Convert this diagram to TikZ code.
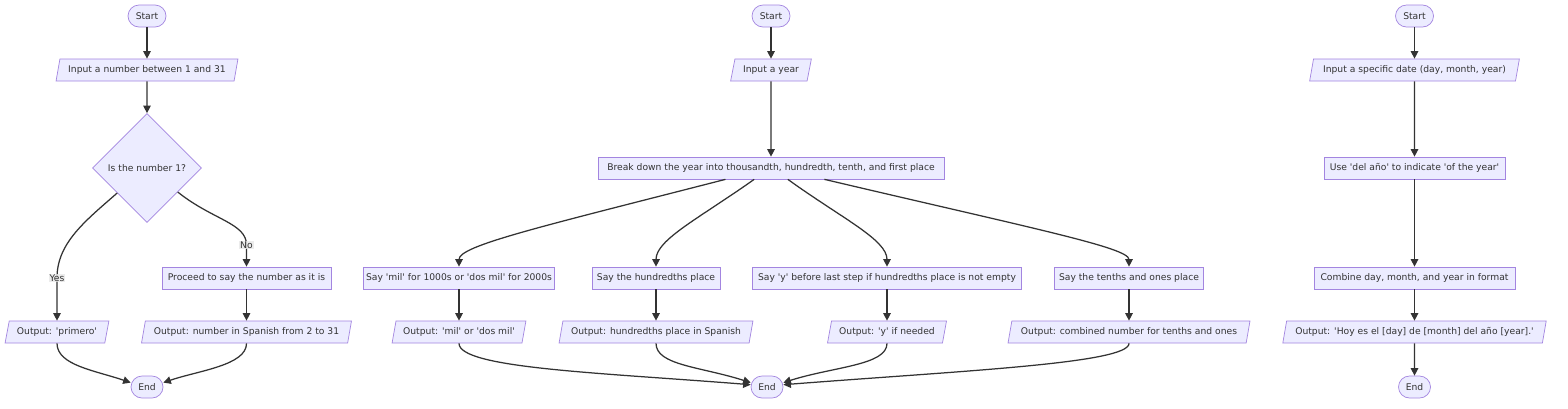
\documentclass[tikz,border=0pt]{standalone}
\usepackage{fontspec}
\newfontfamily\chartfont{DejaVu Sans}
\usetikzlibrary{shapes.geometric,arrows.meta}

\definecolor{boxfill}{HTML}{ECECFF}
\definecolor{boxline}{HTML}{9370DB}
\definecolor{ink}{HTML}{333333}
\definecolor{lblbg}{HTML}{E8E8E8}

\tikzset{
    base/.style={draw=boxline!85!white,fill=boxfill,line width=0.7pt,text=ink,
        font=\chartfont\fontsize{9.2}{11}\selectfont,minimum height=22pt,inner sep=1pt},
    term/.style={base,rectangle,rounded corners=11pt},
    proc/.style={base,rectangle},
    io/.style={base,trapezium,trapezium left angle=72,trapezium right angle=108,
        trapezium stretches=true},
    cond/.style={base,diamond,minimum width=109pt,minimum height=109pt,inner sep=0pt},
    arr/.style={draw=ink,line width=1.25pt,-{Triangle[length=7.5pt,width=7.5pt]}},
    lbl/.style={fill=lblbg,fill opacity=0.8,text opacity=1,text=ink,
        font=\chartfont\fontsize{9.2}{11}\selectfont,inner sep=1pt},
}

\begin{document}
\begin{tikzpicture}[x=1pt,y=-1pt]
    \fill[white] (0,0) rectangle (1568,408);
    \useasboundingbox (0,0) rectangle (1568,408);

    \node[term,minimum width=38] (s1) at (147,16) {Start};
    \node[io,minimum width=182] (in1) at (147,70) {Input a number between 1 and 31};
    \node[cond] (isone) at (147,168) {Is the number 1?};
    \node[proc,minimum width=169] (proceed) at (246.5,278) {Proceed to say the number as it is};
    \node[io,minimum width=104] (prim) at (57,332) {Output: 'primero'};
    \node[io,minimum width=210] (spanish) at (246.5,332) {Output: number in Spanish from 2 to 31};
    \node[term,minimum width=32] (e1) at (147,387) {End};

    \node[term,minimum width=38] (s2) at (771,16) {Start};
    \node[io,minimum width=81] (year) at (771,70) {Input a year};
    \node[proc,minimum width=346] (brk) at (771,168) {Break down the year into thousandth, hundredth, tenth, and first place};
    \node[proc,minimum width=191] (saymil) at (459,278) {Say 'mil' for 1000s or 'dos mil' for 2000s};
    \node[proc,minimum width=128] (sayhun) at (656,278) {Say the hundredths place};
    \node[proc,minimum width=269] (sayy) at (887,278) {Say 'y' before last step if hundredths place is not empty};
    \node[proc,minimum width=149] (sayten) at (1129,278) {Say the tenths and ones place};
    \node[io,minimum width=134] (outmil) at (459,332) {Output: 'mil' or 'dos mil'};
    \node[io,minimum width=194] (outhun) at (656,332) {Output: hundredths place in Spanish};
    \node[io,minimum width=119] (outy) at (887,332) {Output: 'y' if needed};
    \node[io,minimum width=242] (outten) at (1129,332) {Output: combined number for tenths and ones};
    \node[term,minimum width=32] (e2) at (767,387) {End};

    \node[term,minimum width=38] (s3) at (1414.5,16) {Start};
    \node[io,minimum width=210] (date) at (1414.5,70) {Input a specific date (day, month, year)};
    \node[proc,minimum width=181] (delano) at (1414.5,168) {Use 'del año' to indicate 'of the year'};
    \node[proc,minimum width=201] (combine) at (1414.5,278) {Combine day, month, and year in format};
    \node[io,minimum width=264] (hoy) at (1414.5,332) {Output: 'Hoy es el [day] de [month] del año [year].'};
    \node[term,minimum width=32] (e3) at (1414.5,387) {End};

    \foreach \a/\b in {s1/in1,in1/isone,proceed/spanish,s2/year,year/brk,saymil/outmil,
        sayhun/outhun,sayy/outy,sayten/outten,s3/date,date/delano,delano/combine,
        combine/hoy,hoy/e3} {
        \draw[arr] (\a) -- (\b);
    }

    \draw[arr] (isone.-140) .. controls +(-32,28) and +(0,-35) .. (57,278)
        -- node[lbl,pos=0] {Yes} (prim);
    \draw[arr] (isone.-38) .. controls +(35,28) and +(0,-22) .. (246.5,245)
        -- node[lbl,pos=0] {No} (proceed);
    \draw[arr] (prim.south) .. controls +(0,22) and +(-35,-12) .. (e1.165);
    \draw[arr] (spanish.south) .. controls +(0,22) and +(35,-12) .. (e1.15);

    \draw[arr] (brk.-166) .. controls +(-187,48) and +(0,-21) .. (saymil.north);
    \draw[arr] (brk.-146) .. controls +(-55,39) and +(0,-27) .. (sayhun.north);
    \draw[arr] (brk.-34) .. controls +(54,39) and +(0,-27) .. (sayy.north);
    \draw[arr] (brk.-12.3) .. controls +(208,49) and +(0,-19) .. (sayten.north);

    \draw[arr] (outmil.south) .. controls +(0,25) and +(-150,-12) .. (e2.172);
    \draw[arr] (outhun.south) .. controls +(0,22) and +(-50,-16) .. (e2.165);
    \draw[arr] (outy.south) .. controls +(0,22) and +(50,-16) .. (e2.15);
    \draw[arr] (outten.south) .. controls +(0,20) and +(180,-14) .. (e2.8);
\end{tikzpicture}
\end{document}
